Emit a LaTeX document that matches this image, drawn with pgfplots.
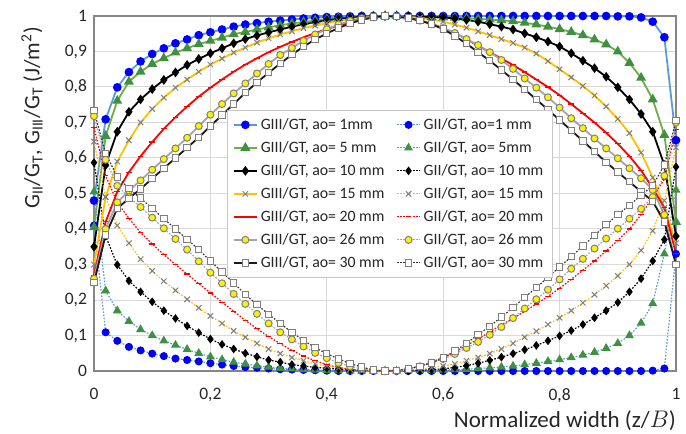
\documentclass[border=0pt]{standalone}
\usepackage{fontspec}
\setmainfont{Carlito}
\usepackage{pgfplots}
\usepackage{pgfplotstable}
\pgfplotsset{compat=1.18}

\definecolor{lblue}{HTML}{5B9BD5}
\definecolor{lgreen}{HTML}{70AD47}
\definecolor{dgreen}{RGB}{61,145,64}
\definecolor{gold}{HTML}{FFC000}
\definecolor{lgray}{HTML}{A5A5A5}
\definecolor{mgray}{HTML}{7F7F7F}
\definecolor{gridc}{HTML}{D9D9D9}
\definecolor{framec}{HTML}{868686}

% columns: x, then GIII/GT and GII/GT for ao = 1, 5, 10, 15, 20, 26, 30 mm
\pgfplotstableread{
x    g3a   g2a   g3b   g2b   g3c   g2c   g3d   g2d   g3e   g2e   g3f   g2f   g3g   g2g
0.00 0.480 0.410 0.405 0.505 0.350 0.587 0.300 0.646 0.270 0.686 0.260 0.718 0.249 0.733
0.02 0.709 0.109 0.662 0.226 0.580 0.380 0.490 0.490 0.420 0.550 0.400 0.595 0.383 0.613
0.04 0.799 0.085 0.761 0.170 0.674 0.299 0.590 0.410 0.505 0.475 0.475 0.522 0.458 0.547
0.06 0.842 0.068 0.815 0.140 0.730 0.254 0.650 0.360 0.560 0.430 0.508 0.490 0.486 0.514
0.08 0.872 0.058 0.843 0.117 0.765 0.223 0.700 0.315 0.605 0.390 0.537 0.462 0.513 0.487
0.10 0.893 0.049 0.865 0.100 0.794 0.195 0.738 0.282 0.645 0.358 0.567 0.432 0.542 0.458
0.12 0.909 0.042 0.881 0.085 0.820 0.170 0.770 0.253 0.682 0.328 0.597 0.402 0.571 0.429
0.14 0.923 0.035 0.897 0.073 0.841 0.148 0.798 0.227 0.715 0.300 0.627 0.372 0.600 0.400
0.16 0.934 0.031 0.909 0.061 0.862 0.127 0.821 0.202 0.745 0.273 0.657 0.342 0.629 0.371
0.18 0.946 0.027 0.921 0.050 0.879 0.108 0.843 0.178 0.773 0.246 0.690 0.309 0.658 0.342
0.20 0.954 0.022 0.930 0.040 0.895 0.090 0.863 0.155 0.798 0.220 0.722 0.277 0.690 0.310
0.22 0.962 0.018 0.939 0.032 0.909 0.075 0.880 0.134 0.821 0.194 0.752 0.247 0.721 0.279
0.24 0.970 0.014 0.949 0.025 0.923 0.062 0.897 0.113 0.843 0.168 0.782 0.217 0.752 0.248
0.26 0.976 0.011 0.955 0.020 0.935 0.050 0.911 0.095 0.863 0.143 0.810 0.189 0.784 0.216
0.28 0.980 0.009 0.962 0.015 0.945 0.040 0.925 0.078 0.881 0.119 0.838 0.161 0.813 0.187
0.30 0.984 0.007 0.968 0.011 0.954 0.031 0.937 0.062 0.898 0.097 0.865 0.134 0.840 0.160
0.32 0.987 0.005 0.974 0.008 0.962 0.025 0.948 0.049 0.913 0.077 0.890 0.109 0.866 0.134
0.34 0.990 0.004 0.979 0.006 0.970 0.018 0.957 0.038 0.927 0.058 0.910 0.089 0.891 0.109
0.36 0.993 0.003 0.983 0.004 0.977 0.014 0.966 0.029 0.940 0.042 0.930 0.069 0.914 0.086
0.38 0.995 0.002 0.987 0.003 0.982 0.010 0.973 0.020 0.952 0.029 0.948 0.051 0.934 0.066
0.40 0.997 0.001 0.991 0.002 0.988 0.008 0.980 0.014 0.963 0.018 0.963 0.036 0.951 0.049
0.42 0.998 0.000 0.994 0.001 0.992 0.005 0.986 0.009 0.973 0.010 0.976 0.023 0.966 0.034
0.44 0.999 0.000 0.996 0.000 0.995 0.003 0.991 0.005 0.982 0.005 0.986 0.013 0.979 0.021
0.46 1.000 0.000 0.998 0.000 0.998 0.002 0.995 0.002 0.990 0.002 0.994 0.006 0.989 0.011
0.48 1.000 0.000 0.999 0.000 0.999 0.001 0.998 0.001 0.996 0.001 0.998 0.002 0.997 0.003
0.50 1.000 0.000 1.000 0.000 1.000 0.000 1.000 0.000 1.000 0.000 1.000 0.000 1.000 0.000
0.52 1.000 0.000 1.000 0.000 1.000 0.000 1.000 0.001 0.999 0.002 0.999 0.001 0.998 0.002
0.54 1.000 0.000 0.999 0.001 0.999 0.001 0.998 0.002 0.995 0.006 0.994 0.006 0.994 0.006
0.56 1.000 0.000 0.998 0.001 0.998 0.002 0.995 0.005 0.988 0.014 0.987 0.013 0.987 0.013
0.58 1.000 0.000 0.997 0.002 0.997 0.004 0.990 0.009 0.978 0.025 0.977 0.023 0.977 0.023
0.60 1.000 0.000 0.996 0.003 0.996 0.006 0.984 0.014 0.966 0.038 0.966 0.034 0.963 0.037
0.62 1.000 0.000 0.995 0.004 0.993 0.010 0.976 0.020 0.952 0.053 0.952 0.048 0.944 0.056
0.64 1.000 0.000 0.994 0.005 0.989 0.015 0.967 0.029 0.935 0.072 0.935 0.065 0.922 0.078
0.66 1.000 0.000 0.992 0.007 0.984 0.022 0.957 0.038 0.916 0.090 0.918 0.082 0.898 0.102
0.68 1.000 0.000 0.990 0.009 0.977 0.030 0.946 0.049 0.898 0.110 0.898 0.102 0.874 0.126
0.70 1.000 0.000 0.988 0.011 0.970 0.039 0.935 0.062 0.880 0.130 0.876 0.124 0.848 0.152
0.72 1.000 0.000 0.985 0.014 0.962 0.049 0.924 0.078 0.862 0.148 0.851 0.149 0.821 0.179
0.74 1.000 0.000 0.981 0.018 0.951 0.060 0.911 0.095 0.842 0.168 0.824 0.176 0.793 0.207
0.76 1.000 0.000 0.976 0.022 0.940 0.072 0.894 0.112 0.821 0.189 0.798 0.202 0.765 0.235
0.78 1.000 0.000 0.970 0.027 0.928 0.085 0.873 0.131 0.800 0.210 0.771 0.229 0.736 0.264
0.80 1.000 0.000 0.963 0.032 0.914 0.099 0.850 0.150 0.777 0.233 0.742 0.258 0.707 0.293
0.82 1.000 0.000 0.955 0.038 0.895 0.114 0.827 0.170 0.752 0.258 0.712 0.288 0.678 0.322
0.84 1.000 0.000 0.946 0.045 0.874 0.131 0.803 0.192 0.726 0.284 0.684 0.316 0.648 0.352
0.86 1.000 0.000 0.934 0.053 0.853 0.150 0.776 0.215 0.700 0.310 0.655 0.345 0.618 0.382
0.88 1.000 0.000 0.920 0.064 0.829 0.170 0.745 0.240 0.671 0.338 0.627 0.373 0.588 0.412
0.90 0.999 0.000 0.900 0.078 0.799 0.193 0.710 0.268 0.640 0.368 0.599 0.401 0.560 0.440
0.92 0.999 0.000 0.868 0.100 0.765 0.223 0.670 0.300 0.605 0.400 0.571 0.429 0.533 0.467
0.94 0.996 0.000 0.826 0.135 0.724 0.260 0.615 0.340 0.565 0.440 0.543 0.457 0.505 0.495
0.96 0.984 0.001 0.765 0.190 0.674 0.310 0.545 0.395 0.515 0.490 0.510 0.490 0.478 0.522
0.98 0.940 0.007 0.665 0.330 0.580 0.370 0.460 0.480 0.460 0.540 0.440 0.550 0.420 0.580
1.00 0.650 0.330 0.420 0.510 0.380 0.575 0.360 0.630 0.330 0.680 0.300 0.700 0.300 0.705
}\data

\tikzset{
  full/.style={line width=0.9pt},
  dots/.style={line width=0.6pt, dash pattern=on 0.8pt off 0.8pt},
}

\begin{document}
\begin{tikzpicture}
\begin{axis}[
    scale only axis,
    width=291pt,
    height=177.5pt,
    xmin=0, xmax=1,
    ymin=0, ymax=1,
    xtick={0,0.2,0.4,0.6,0.8,1},
    ytick={0,0.1,0.2,0.3,0.4,0.5,0.6,0.7,0.8,0.9,1},
    major tick length=0pt,
    grid=major,
    major grid style={gridc, line width=0.5pt},
    axis line style={framec, line width=0.6pt},
    clip=false,
    /pgf/number format/.cd, use comma, fixed, assume math mode=true,
    /pgfplots/.cd,
    tick label style={font=\fontsize{8.75}{10}\selectfont, text=black!85},
    xticklabel style={yshift=-5pt},
    xlabel={Normalized width (z/$B$)},
    xlabel style={at={([xshift=3.5pt,yshift=-28pt]axis description cs:1,0)},
        anchor=base east, font=\fontsize{11.5}{13}\selectfont, text=black!85},
    ylabel={G\textsubscript{II}/G\textsubscript{T}, G\textsubscript{III}/G\textsubscript{T} (J/m\textsuperscript{2})},
    ylabel style={at={([xshift=-31pt,yshift=-2pt]axis description cs:0,1)},
        anchor=east, font=\fontsize{11}{13}\selectfont, text=black!85},
    legend columns=2,
    legend cell align=left,
    legend image code/.code={\draw[mark repeat=2,mark phase=2,#1]
        plot coordinates {(0pt,0pt) (5.75pt,0pt) (11.5pt,0pt)};},
    legend style={at={(0.508,0.499)}, anchor=center, draw=gridc!80!gray,
        fill=white, font=\fontsize{7.9}{9.5}\selectfont, text=black!85,
        row sep=0.8pt,
        nodes={inner sep=1.5pt, text height=6pt, text depth=1.7pt},
        /tikz/every even column/.append style={column sep=4.5pt}},
]
\coordinate (sw) at (rel axis cs:0,0);
\coordinate (ne) at (rel axis cs:1,1);

\addplot[lblue, full, mark=*, mark size=1.7pt, mark options={solid, fill=blue, draw=blue}]
    table[x=x, y=g3a] {\data};
\addlegendentry{GIII/GT, ao= 1mm}
\addplot[lblue, dots, mark=*, mark size=1.7pt, mark options={solid, fill=blue, draw=blue}]
    table[x=x, y=g2a] {\data};
\addlegendentry{GII/GT, ao=1 mm}

\addplot[lgreen, full, mark=triangle*, mark size=2pt, mark options={solid, fill=dgreen, draw=dgreen}]
    table[x=x, y=g3b] {\data};
\addlegendentry{GIII/GT, ao= 5 mm}
\addplot[lblue, dots, mark=triangle*, mark size=2pt, mark options={solid, fill=dgreen, draw=dgreen}]
    table[x=x, y=g2b] {\data};
\addlegendentry{GII/GT, ao= 5mm}

\addplot[black, full, mark=diamond*, mark size=1.7pt, mark options={solid, fill=black}]
    table[x=x, y=g3c] {\data};
\addlegendentry{GIII/GT, ao= 10 mm}
\addplot[black, dots, mark=diamond*, mark size=1.7pt, mark options={solid, fill=black}]
    table[x=x, y=g2c] {\data};
\addlegendentry{GII/GT, ao= 10 mm}

\addplot[gold, full, mark=x, mark size=1.9pt, mark options={solid, draw=mgray, line width=0.5pt}]
    table[x=x, y=g3d] {\data};
\addlegendentry{GIII/GT, ao= 15 mm}
\addplot[gold, dots, mark=x, mark size=1.9pt, mark options={solid, draw=mgray, line width=0.5pt}]
    table[x=x, y=g2d] {\data};
\addlegendentry{GII/GT, ao= 15 mm}

\addplot[red, full, mark=-, mark size=1.4pt, mark options={solid, draw=red, line width=0.6pt}]
    table[x=x, y=g3e] {\data};
\addlegendentry{GIII/GT, ao= 20 mm}
\addplot[red, dots, mark=-, mark size=1.4pt, mark options={solid, draw=red, line width=0.6pt}]
    table[x=x, y=g2e] {\data};
\addlegendentry{GII/GT, ao= 20 mm}

\addplot[lgray, full, mark=*, mark size=1.75pt, mark options={solid, fill=yellow, draw=mgray, line width=0.5pt}]
    table[x=x, y=g3f] {\data};
\addlegendentry{GIII/GT, ao= 26 mm}
\addplot[lgray, dots, mark=*, mark size=1.75pt, mark options={solid, fill=yellow, draw=mgray, line width=0.5pt}]
    table[x=x, y=g2f] {\data};
\addlegendentry{GII/GT, ao= 26 mm}

\addplot[black!90, full, mark=square*, mark size=1.6pt, mark options={solid, fill=white, draw=mgray, line width=0.5pt}]
    table[x=x, y=g3g] {\data};
\addlegendentry{GIII/GT, ao= 30 mm}
\addplot[black!80, dots, mark=square*, mark size=1.6pt, mark options={solid, fill=white, draw=mgray, line width=0.5pt}]
    table[x=x, y=g2g] {\data};
\addlegendentry{GII/GT, ao= 30 mm}
\end{axis}
\pgfresetboundingbox
\path[use as bounding box] ([xshift=-47pt,yshift=-31.5pt]sw) rectangle ([xshift=5pt,yshift=8pt]ne);
\end{tikzpicture}
\end{document}
